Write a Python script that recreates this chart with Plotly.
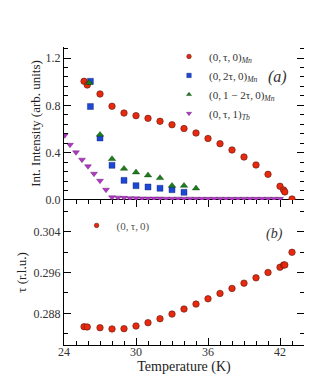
import plotly.graph_objects as go

# (0,tau,0)_Mn intensity
T_red_a = [25.67, 25.94, 27.0, 28.0, 29.0, 30.0, 31.0, 32.0, 33.0, 34.0, 35.0, 36.0, 37.0, 38.0,
           39.0, 40.0, 41.0, 42.0, 42.3, 42.4, 43.0]
I_red = [1.003, 0.972, 0.896, 0.792, 0.735, 0.713, 0.690, 0.665, 0.636, 0.604, 0.566, 0.520,
         0.476, 0.423, 0.363, 0.296, 0.217, 0.116, 0.085, 0.068, 0.008]
# (0,2tau,0)_Mn
T_blue = [26.2, 26.2, 27.0, 28.0, 29.0, 30.0, 31.0, 32.0, 33.0, 34.0]
I_blue = [1.003, 0.790, 0.524, 0.293, 0.166, 0.121, 0.110, 0.099, 0.087, 0.065]
# (0,1-2tau,0)_Mn
T_green = [26.1, 27.0, 28.0, 29.0, 30.0, 31.0, 32.0, 33.0, 34.0, 35.0]
I_green = [0.99, 0.552, 0.347, 0.265, 0.234, 0.209, 0.186, 0.121, 0.121, 0.099]
# (0,tau,1)_Tb
T_purple = [24.06, 24.5, 25.0, 25.5, 26.0, 26.5, 27.0, 27.5, 28.0, 28.5, 29.0, 29.5, 30.0, 30.5,
            31.0, 31.5, 32.0, 32.5, 33.0, 33.5, 34.0, 34.5, 35.0, 35.5, 36.0, 36.5, 37.0, 37.5,
            38.0, 38.5, 39.0, 39.5, 40.0, 40.5, 41.0, 41.5, 42.0]
I_purple = [0.547, 0.467, 0.403, 0.341, 0.285, 0.222, 0.163, 0.087, 0.023, 0.02, 0.018, 0.015,
            0.014, 0.013, 0.012, 0.012, 0.012, 0.011, 0.011, 0.011, 0.011, 0.011, 0.01, 0.01,
            0.01, 0.01, 0.01, 0.01, 0.01, 0.01, 0.01, 0.01, 0.01, 0.01, 0.01, 0.01, 0.01]
# tau vs T
T_tau = [25.67, 25.94, 27.0, 28.0, 29.0, 30.0, 31.0, 32.0, 33.0, 34.0, 35.0, 36.0, 37.0, 38.0,
         39.0, 40.0, 41.0, 42.0, 42.3, 42.4, 43.0]
tau = [0.28539, 0.28533, 0.28519, 0.28494, 0.28500, 0.28552, 0.28617, 0.28695, 0.28786, 0.28884,
       0.28981, 0.29085, 0.29190, 0.29288, 0.29391, 0.29495, 0.29600, 0.29703, 0.29748, 0.29748,
       0.29996]

# legend labels
names_a = ["(0,\u2009τ,\u20090)<sub><i>Mn</i></sub>",
           "(0,\u20092τ,\u20090)<sub><i>Mn</i></sub>",
           "(0,\u20091 − 2τ,\u20090)<sub><i>Mn</i></sub>",
           "(0,\u2009τ,\u20091)<sub><i>Tb</i></sub>"]
name_b = "(0,\u2009τ,\u20090)"

RED = "#e8290e"
BLUE = "#1d47d6"
GREEN = "#1b7d1b"
PURPLE = "#b236c4"
SERIF = "Liberation Serif"

styles = [
    dict(symbol="circle", color=RED, line=dict(width=0.6, color="#5a1a10")),
    dict(symbol="square", color=BLUE, line=dict(width=0.4, color="#10206a")),
    dict(symbol="triangle-up", color=GREEN, line=dict(width=0.4, color="#0a3a0a")),
    dict(symbol="triangle-down", color=PURPLE, line=dict(width=0.4, color="#501060")),
]
sizes = [6.5, 6, 6.5, 6]
xs = [T_red_a, T_blue, T_green, T_purple]
ys = [I_red, I_blue, I_green, I_purple]

fig = go.Figure()
for i in range(4):
    fig.add_trace(go.Scatter(x=xs[i], y=ys[i], mode="markers", showlegend=False,
                             marker=dict(size=sizes[i], **styles[i]), xaxis="x", yaxis="y2"))
for i in range(4):
    # legend-only entries with smaller symbols
    fig.add_trace(go.Scatter(x=[None], y=[None], mode="markers", name=names_a[i],
                             marker=dict(size=4.5, **styles[i]), xaxis="x", yaxis="y2",
                             legend="legend"))
fig.add_trace(go.Scatter(x=T_tau, y=tau, mode="markers", showlegend=False,
                         marker=dict(size=6.5, **styles[0]), xaxis="x", yaxis="y"))
fig.add_trace(go.Scatter(x=[None], y=[None], mode="markers", name=name_b,
                         marker=dict(size=4.5, **styles[0]), xaxis="x", yaxis="y",
                         legend="legend2"))

tickfont = dict(family=SERIF, size=12, color="#333333")
common = dict(showline=True, linecolor="black", linewidth=1, mirror="ticks", ticks="inside",
              ticklen=7, tickwidth=1.2, tickcolor="black", showgrid=False, zeroline=False,
              tickfont=tickfont)

fig.update_layout(
    width=312, height=385,
    margin=dict(l=56, r=16, t=39, b=48),
    paper_bgcolor="white", plot_bgcolor="white",
    xaxis=dict(range=[24, 44], tick0=24, dtick=6, anchor="y", ticklabelstandoff=-4,
               minor=dict(ticks="inside", dtick=1, ticklen=4, tickcolor="black"),
               title=dict(text="Temperature (K)", font=dict(family=SERIF, size=14, color="#222"), standoff=2),
               **common),
    xaxis2=dict(range=[24, 44], tick0=24, dtick=6, anchor="y2", matches="x", showticklabels=False,
                minor=dict(ticks="inside", dtick=1, ticklen=4, tickcolor="black"), **common),
    yaxis=dict(domain=[0, 0.4866], range=[0.2818, 0.3102], tick0=0.288, dtick=0.008,
               tickformat=".3f",
               minor=dict(ticks="inside", dtick=0.004, ticklen=4, tickcolor="black"),
               title=dict(text="τ (r.l.u.)", font=dict(family=SERIF, size=13, color="#222"), standoff=4),
               **common),
    yaxis2=dict(domain=[0.4866, 1], range=[0, 1.293], tick0=0, dtick=0.4, tickformat=".1f",
                anchor="x2",
                minor=dict(ticks="inside", dtick=0.08, ticklen=4, tickcolor="black"),
                title=dict(text="Int. Intensity (arb. units)", font=dict(family=SERIF, size=13, color="#222"), standoff=2),
                **common),
    legend=dict(x=0.4375, y=1.017, xref="paper", yref="paper", xanchor="left", yanchor="top",
                bgcolor="rgba(0,0,0,0)", font=dict(family=SERIF, size=11, color="#333"),
                itemsizing="trace", tracegroupgap=0, itemwidth=30),
    legend2=dict(x=0.0525, y=0.45, xref="paper", yref="paper", xanchor="left", yanchor="top",
                 bgcolor="rgba(0,0,0,0)", font=dict(family=SERIF, size=11, color="#555"),
                 itemsizing="trace", itemwidth=30),
    annotations=[
        dict(text="<i>(a)</i>", x=0.8896, y=0.9003, xref="paper", yref="paper", showarrow=False,
             xanchor="center", yanchor="middle",
             font=dict(family=SERIF, size=16, color="#333")),
        dict(text="<i>(b)</i>", x=0.879, y=0.3725, xref="paper", yref="paper", showarrow=False,
             xanchor="center", yanchor="middle",
             font=dict(family=SERIF, size=14, color="#333")),
    ],
)

fig.write_html("out.html")
